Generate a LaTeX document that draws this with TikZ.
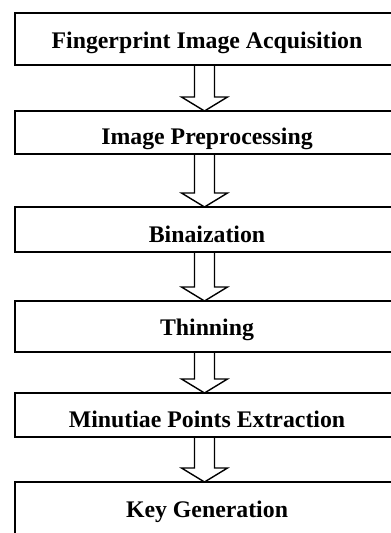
\documentclass[tikz,border=0pt]{standalone}
\usepackage{fontspec}
\setmainfont{Liberation Serif}
\usepackage{tikz}
\usetikzlibrary{positioning, calc}
\tikzset{stage/.style={rectangle, draw=black, line width=1.6pt, outer sep=0pt, inner sep=0pt, minimum width=384pt, text depth=0pt, font=\fontsize{23.8}{28}\selectfont\bfseries, text centered}}
\tikzset{hollow/.style={line width=1.4pt, to path={let \p1=(\tikztostart), \p2=(\tikztotarget) in (\x1-10pt,\y1) -- (\x1-10pt,\y2+14pt) -- (\x1-23pt,\y2+14pt) -- (\x1,\y2) -- (\x1+23pt,\y2+14pt) -- (\x1+10pt,\y2+14pt) -- (\x1+10pt,\y1)}}}

\begin{document}
\begin{tikzpicture}
    \useasboundingbox (0,0) rectangle (391pt,-533pt);
    \node (acq) [stage, minimum height=52pt, text height=18pt] at (207pt,-39pt) {Fingerprint Image Acquisition};
    \node (pre) [stage, minimum height=43pt, text height=23pt, below=46pt of acq] {Image Preprocessing};
    \node (bin) [stage, minimum height=45pt, text height=25pt, below=53pt of pre] {Binaization};
    \node (thin) [stage, minimum height=51pt, text height=17pt, below=49pt of bin] {Thinning};
    \node (minu) [stage, minimum height=44pt, text height=25pt, below=41pt of thin] {Minutiae Points Extraction};
    \node (key) [stage, minimum height=54pt, text height=16pt, below=45pt of minu] {Key Generation};

    \draw [hollow] ([xshift=-2.5pt]acq.south) to ([xshift=-2.5pt]pre.north);
    \draw [hollow] ([xshift=-2.5pt]pre.south) to ([xshift=-2.5pt]bin.north);
    \draw [hollow] ([xshift=-2.5pt]bin.south) to ([xshift=-2.5pt]thin.north);
    \draw [hollow] ([xshift=-2.5pt]thin.south) to ([xshift=-2.5pt]minu.north);
    \draw [hollow] ([xshift=-2.5pt]minu.south) to ([xshift=-2.5pt]key.north);
\end{tikzpicture}
\end{document}
